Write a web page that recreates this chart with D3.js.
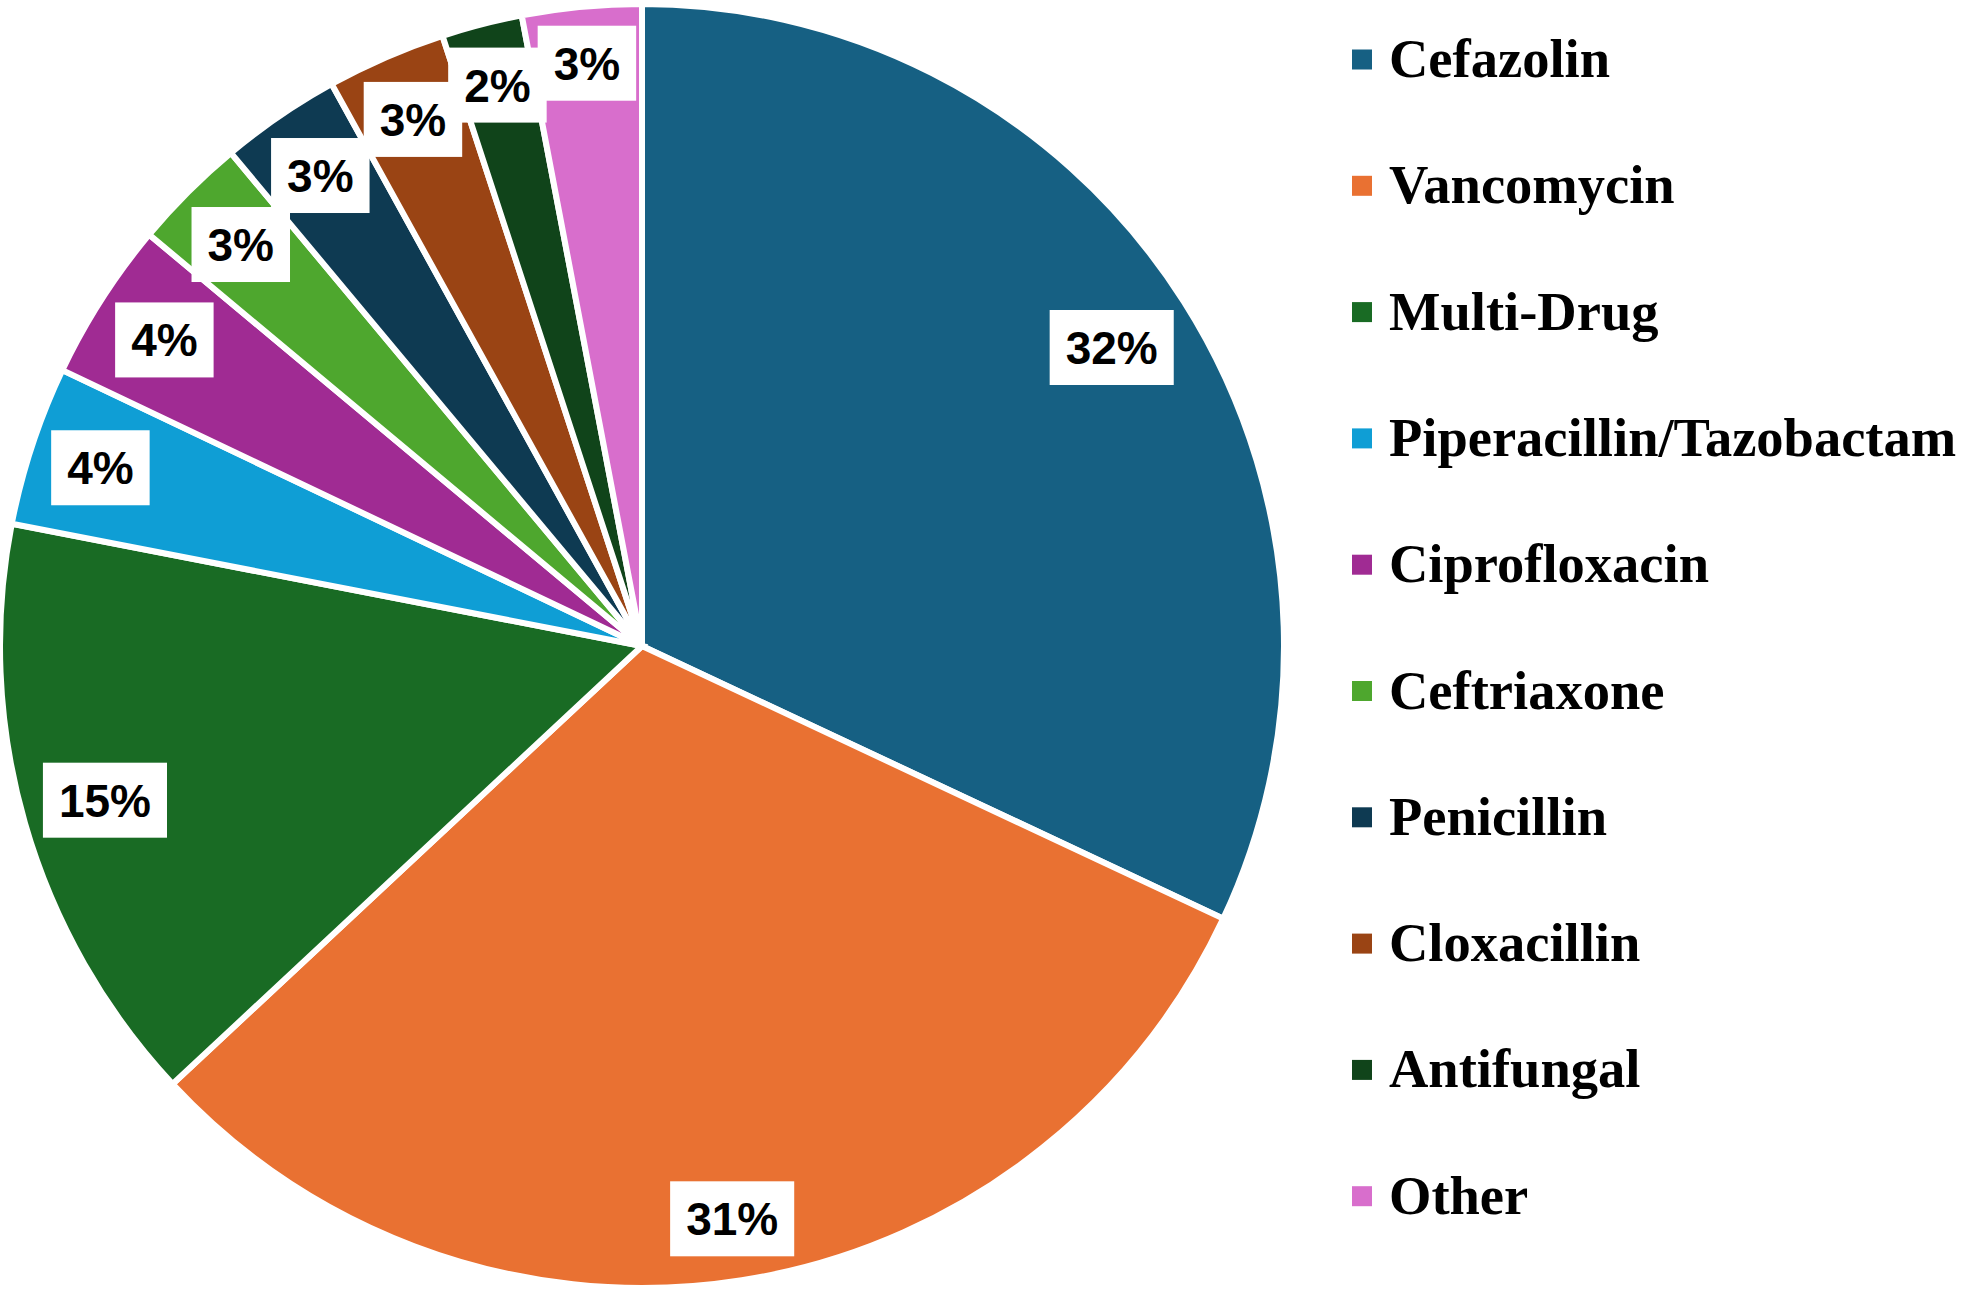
<!DOCTYPE html>
<html>
<head>
<meta charset="utf-8">
<script src="https://cdn.jsdelivr.net/npm/d3@7"></script>
<style>
  html, body { margin: 0; padding: 0; background: #ffffff; }
  svg { display: block; }
</style>
</head>
<body>
<svg id="chart" width="1968" height="1296"></svg>
<script>
// ---- data ----
const categories = ["Cefazolin", "Vancomycin", "Multi-Drug", "Piperacillin/Tazobactam",
  "Ciprofloxacin", "Ceftriaxone", "Penicillin", "Cloxacillin", "Antifungal", "Other"];
const shares = [31.98, 31.07, 15.0, 4.02, 4.0, 2.87, 3.03, 3.0, 2.03, 3.0];
const colors = ["#166083", "#E97132", "#196B24", "#0F9ED5", "#A02B93",
  "#4EA72E", "#0E3A52", "#9A4414", "#10441A", "#D86ECC"];

// ---- layout ----
const W = 1968, H = 1296;
const cx = 642, cy = 646, R = 642;
const labelReach = 629;      // farthest corner of a label box from centre
const svg = d3.select("#chart");

const total = d3.sum(shares);
const pie = d3.pie().sort(null).value(d => d);
const arcs = pie(shares);
const arc = d3.arc().innerRadius(0).outerRadius(R);
const color = d3.scaleOrdinal().domain(categories).range(colors);
const pct = d3.format(".0%");

const g = svg.append("g").attr("transform", `translate(${cx},${cy})`);

g.selectAll("path.slice")
  .data(arcs)
  .join("path")
  .attr("class", "slice")
  .attr("d", arc)
  .attr("fill", (d, i) => color(categories[i]))
  .attr("stroke", "#ffffff")
  .attr("stroke-width", 6)
  .attr("stroke-linejoin", "miter");

// ---- data labels ----
const fontSize = 46, padX = 16, boxH = 75;
const labels = g.selectAll("g.lbl").data(arcs).join("g").attr("class", "lbl");
labels.each(function (d) {
  const sel = d3.select(this);
  const rect = sel.append("rect").attr("fill", "#ffffff");
  const text = sel.append("text")
    .attr("font-family", "'Liberation Sans', Arial, sans-serif")
    .attr("font-weight", "bold")
    .attr("font-size", fontSize)
    .attr("fill", "#000000")
    .attr("text-anchor", "middle")
    .text(pct(d.value / total));
  const tw = text.node().getComputedTextLength();
  const bw = tw + 2 * padX, bh = boxH;
  const mid = (d.startAngle + d.endAngle) / 2;
  const ux = Math.sin(mid), uy = -Math.cos(mid);
  const c1 = Math.sign(ux) * bw / 2, c2 = Math.sign(uy) * bh / 2;
  const b = ux * c1 + uy * c2;
  const cc = c1 * c1 + c2 * c2;
  const r = -b + Math.sqrt(b * b - (cc - labelReach * labelReach));
  const x = r * ux, y = r * uy;
  rect.attr("x", x - bw / 2).attr("y", y - bh / 2).attr("width", bw).attr("height", bh);
  text.attr("x", x).attr("y", y + fontSize * 0.358);
});

// ---- legend ----
const legendX = 1352, legendTop = 59.5, legendStep = 126.3, sw = 20;
const legend = svg.append("g").attr("class", "legend");
const items = legend.selectAll("g.item").data(categories).join("g")
  .attr("class", "item")
  .attr("transform", (d, i) => `translate(${legendX},${legendTop + i * legendStep})`);
items.append("rect")
  .attr("x", 0).attr("y", -sw / 2).attr("width", sw).attr("height", sw)
  .attr("fill", d => color(d));
items.append("text")
  .attr("x", 37).attr("y", 17.5)
  .attr("font-family", "'Liberation Serif', 'Times New Roman', serif")
  .attr("font-weight", "bold")
  .attr("font-size", 54.5)
  .attr("fill", "#000000")
  .text(d => d);
</script>
</body>
</html>
